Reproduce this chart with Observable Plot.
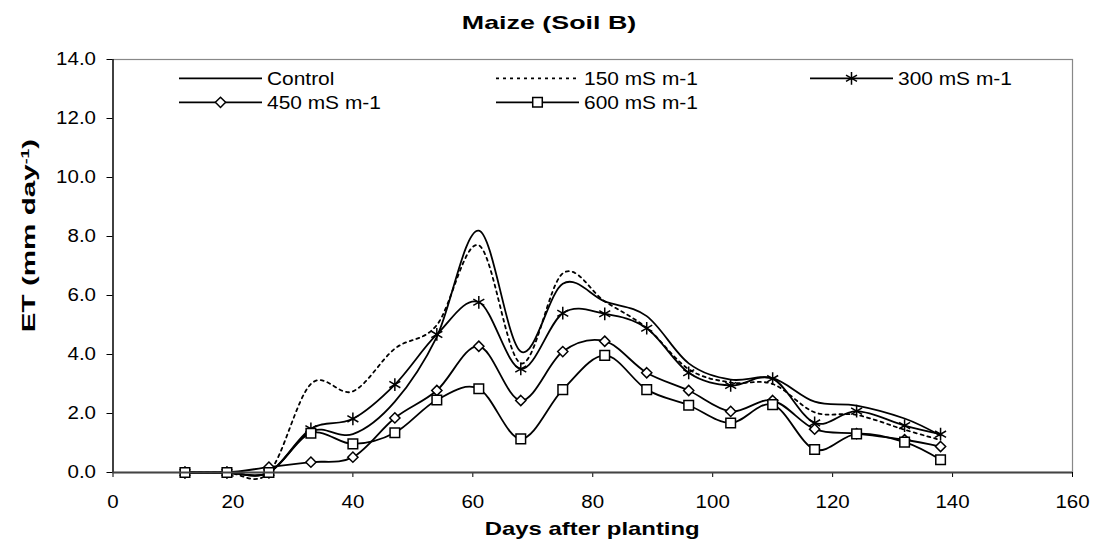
<!DOCTYPE html>
<html><head><meta charset="utf-8">
<script src="https://cdn.jsdelivr.net/npm/d3@7"></script>
<script src="https://cdn.jsdelivr.net/npm/@observablehq/plot@0.6"></script>
<style>
html,body{margin:0;padding:0;background:#fff;}
#chart{position:relative;width:1097px;height:545px;}
</style></head><body><div id="chart"></div>
<script>
// ---- data ----
const days = [12,19,26,33,40,47,54,61,68,75,82,89,96,103,110,117,124,132,138];
const control = [0,0,0,1.4,1.3,2.4,4.6,8.2,4.1,6.4,5.8,5.3,3.7,3.15,3.2,2.4,2.27,1.83,1.25];
const ec150   = [0,0,0,3.0,2.75,4.2,5.0,7.7,3.7,6.75,5.8,4.9,3.5,3.05,3.0,2.04,1.95,1.45,1.1];
const ec300   = [0,0,0,1.48,1.82,2.98,4.68,5.77,3.51,5.4,5.38,4.89,3.38,2.95,3.18,1.68,2.08,1.59,1.3];
const ec450   = [0,0,0.18,0.35,0.52,1.85,2.78,4.28,2.44,4.1,4.45,3.38,2.78,2.07,2.44,1.47,1.32,1.11,0.88];
const ec600   = [0,0,0,1.33,0.97,1.35,2.46,2.84,1.14,2.81,3.97,2.81,2.28,1.68,2.3,0.78,1.31,1.03,0.43];
const seriesNames = ["Control","150 mS m-1","300 mS m-1","450 mS m-1","600 mS m-1"];
const seriesValues = [control, ec150, ec300, ec450, ec600];
const seriesSymbols = [null, null, "asterisk", "diamond2", "square"];
const xTicks = [0,20,40,60,80,100,120,140,160];
const yTicks = [0,2,4,6,8,10,12,14];
const titleText = "Maize (Soil B)";
const xLabelText = "Days after planting";

const rows = [];
seriesNames.forEach((name,i)=>seriesValues[i].forEach((v,j)=>rows.push({series:name, day:days[j], et:v})));

const FONT = "'Liberation Sans', Arial, sans-serif";
const symR = {asterisk:6, diamond2:4.6, square:5.4};

const lineMarks = seriesNames.map((name,i)=>Plot.line(rows.filter(r=>r.series===name), {
  x:"day", y:"et", curve:"cardinal", tension:0, stroke:"#000", strokeWidth:1.8,
  strokeDasharray: name==="150 mS m-1" ? "3,4" : null
}));
const dotMarks = seriesNames.map((name,i)=>seriesSymbols[i] ? Plot.dot(rows.filter(r=>r.series===name), {
  x:"day", y:"et", symbol:seriesSymbols[i], r:symR[seriesSymbols[i]], stroke:"#000",
  fill: seriesSymbols[i]==="asterisk" ? "none" : "#fff", strokeWidth:1.5
}) : null).filter(Boolean);

const plot = Plot.plot({
  width:1097, height:545,
  marginLeft:112.5, marginRight:25, marginTop:59, marginBottom:73,
  style:{fontFamily:FONT, background:"white", color:"black"},
  x:{domain:[0,160]}, y:{domain:[0,14]},
  marks:[
    Plot.frame({stroke:"#888", strokeWidth:1.2}),
    Plot.axisX({ticks:xTicks, tickSize:5, tickPadding:18, tickFormat:d=>String(d), fontSize:17.5, label:null}),
    Plot.axisY({ticks:yTicks, tickSize:6, tickPadding:11, tickFormat:d=>d.toFixed(1), fontSize:17.5, label:null}),
    ...lineMarks,
    ...dotMarks,
    Plot.ruleX([0], {stroke:"#000", strokeWidth:1.3}),
    Plot.ruleY([0], {stroke:"#444", strokeWidth:2.2})
  ]
});
document.getElementById("chart").appendChild(plot);

function stretch(el, k){
  const L = el.getComputedTextLength();
  el.setAttribute("textLength", (L*k).toFixed(1));
  el.setAttribute("lengthAdjust","spacingAndGlyphs");
}
const svg = d3.select(plot);
svg.selectAll("text").each(function(){ stretch(this, 1.17); });

const sx = plot.scale("x"), sy = plot.scale("y");
const xL = sx.apply(0), xR = sx.apply(160), yB = sy.apply(0), yT = sy.apply(14);

// title
const t = svg.append("text").attr("x", 549).attr("y", 28.5).attr("text-anchor","middle")
  .attr("font-family", FONT).attr("font-weight","bold").attr("font-size", 18.5).text(titleText);
stretch(t.node(), 1.45);
// x label
const xl = svg.append("text").attr("x", (xL+xR)/2).attr("y", yB+63).attr("text-anchor","middle")
  .attr("font-family", FONT).attr("font-weight","bold").attr("font-size", 18.5).text(xLabelText);
stretch(xl.node(), 1.29);
// y label
const yl = svg.append("text").attr("transform", `translate(35,${(yB+yT)/2 - 30}) rotate(-90)`)
  .attr("text-anchor","middle").attr("font-family", FONT).attr("font-weight","bold").attr("font-size", 18.5);
yl.append("tspan").text("ET (mm day");
yl.append("tspan").attr("baseline-shift","super").attr("font-size", 11).text("-1");
yl.append("tspan").text(")");
stretch(yl.node(), 1.6);

// legend
const legend = [
  {name:seriesNames[0], x:179, y:78.3, sym:null, dash:null},
  {name:seriesNames[1], x:496, y:78.3, sym:null, dash:"3,4"},
  {name:seriesNames[2], x:810, y:78.3, sym:"asterisk", dash:null},
  {name:seriesNames[3], x:179, y:102.3, sym:"diamond2", dash:null},
  {name:seriesNames[4], x:496, y:102.3, sym:"square", dash:null}
];
const symMap = {asterisk:d3.symbolAsterisk, diamond2:d3.symbolDiamond2, square:d3.symbolSquare};
const lg = svg.append("g");
legend.forEach(d=>{
  const len = 83;
  lg.append("line").attr("x1", d.x).attr("x2", d.x+len).attr("y1", d.y).attr("y2", d.y)
    .attr("stroke","#000").attr("stroke-width",1.8).attr("stroke-dasharray", d.dash);
  if (d.sym) {
    const r = symR[d.sym];
    lg.append("path").attr("transform", `translate(${d.x+len/2},${d.y})`)
      .attr("d", d3.symbol(symMap[d.sym], Math.PI*r*r)())
      .attr("stroke","#000").attr("stroke-width",1.5).attr("fill", d.sym==="asterisk"?"none":"#fff");
  }
  const tx = lg.append("text").attr("x", d.x+len+5).attr("y", d.y).attr("dy","0.35em")
    .attr("text-anchor","start")
    .attr("font-family", FONT).attr("font-size", 18.5).text(d.name);
  stretch(tx.node(), 1.13);
});
</script>
</body></html>
